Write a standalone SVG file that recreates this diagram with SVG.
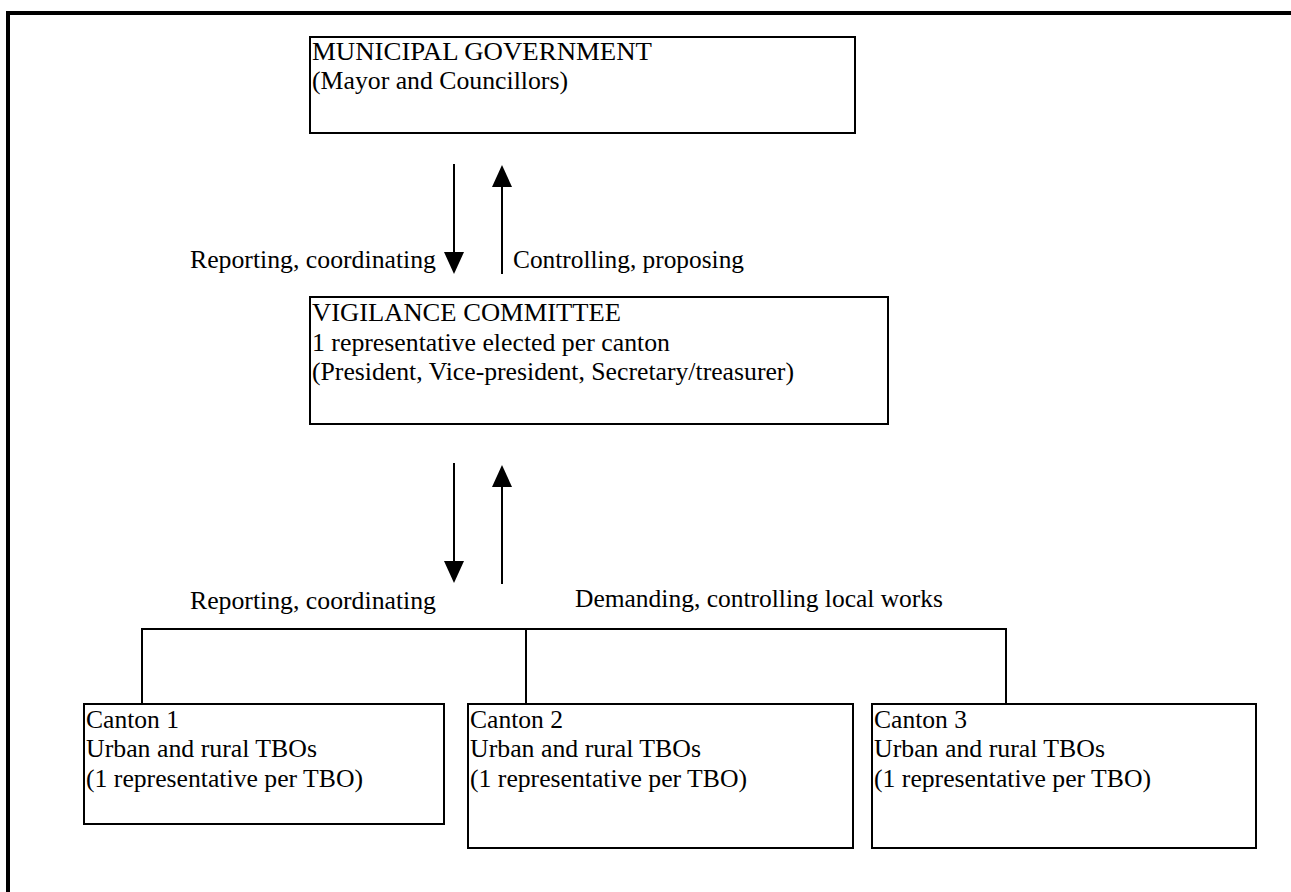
<svg xmlns="http://www.w3.org/2000/svg" width="1291" height="892" viewBox="0 0 1291 892">
  <style>
    .box { fill: #ffffff; stroke: #000000; stroke-width: 2; }
    .frame { fill: none; stroke: #000000; stroke-width: 4; }
    .wire { fill: none; stroke: #000000; stroke-width: 2; }
    .head { fill: #000000; stroke: none; }
    text { font-family: "Liberation Serif", "DejaVu Serif", serif; font-size: 25px; fill: #000000; }
  </style>
  <defs>
    <polygon id="arrow-down" class="head" points="-10,0 10,0 0,22"/>
    <polygon id="arrow-up" class="head" points="-10,0 10,0 0,-22"/>
  </defs>
  <rect width="1291" height="892" fill="#ffffff"/>

  <!-- outer page frame, open to the right and bottom -->
  <path class="frame" d="M 1291 13 H 8 V 892"/>

  <g id="municipal-government">
    <rect class="box" x="310" y="37" width="545" height="96"/>
    <text x="312" y="60" textLength="340" lengthAdjust="spacingAndGlyphs">MUNICIPAL GOVERNMENT</text>
    <text x="312" y="89" textLength="256" lengthAdjust="spacingAndGlyphs">(Mayor and Councillors)</text>
  </g>

  <g id="vigilance-committee">
    <rect class="box" x="310" y="297" width="578" height="127"/>
    <text x="312" y="321" textLength="309" lengthAdjust="spacingAndGlyphs">VIGILANCE COMMITTEE</text>
    <text x="312" y="351" textLength="358" lengthAdjust="spacingAndGlyphs">1 representative elected per canton</text>
    <text x="312" y="380" textLength="482" lengthAdjust="spacingAndGlyphs">(President, Vice-president, Secretary/treasurer)</text>
  </g>

  <g id="canton-1">
    <rect class="box" x="84" y="704" width="360" height="120"/>
    <text x="86" y="728" textLength="93" lengthAdjust="spacingAndGlyphs">Canton 1</text>
    <text x="86" y="757" textLength="231" lengthAdjust="spacingAndGlyphs">Urban and rural TBOs</text>
    <text x="86" y="787" textLength="277" lengthAdjust="spacingAndGlyphs">(1 representative per TBO)</text>
  </g>

  <g id="canton-2">
    <rect class="box" x="468" y="704" width="385" height="144"/>
    <text x="470" y="728" textLength="93" lengthAdjust="spacingAndGlyphs">Canton 2</text>
    <text x="470" y="757" textLength="231" lengthAdjust="spacingAndGlyphs">Urban and rural TBOs</text>
    <text x="470" y="787" textLength="277" lengthAdjust="spacingAndGlyphs">(1 representative per TBO)</text>
  </g>

  <g id="canton-3">
    <rect class="box" x="872" y="704" width="384" height="144"/>
    <text x="874" y="728" textLength="93" lengthAdjust="spacingAndGlyphs">Canton 3</text>
    <text x="874" y="757" textLength="231" lengthAdjust="spacingAndGlyphs">Urban and rural TBOs</text>
    <text x="874" y="787" textLength="277" lengthAdjust="spacingAndGlyphs">(1 representative per TBO)</text>
  </g>

  <g id="connectors">
    <!-- municipal government <-> vigilance committee -->
    <line class="wire" x1="454" y1="164" x2="454" y2="254"/>
    <use href="#arrow-down" x="454" y="252"/>
    <line class="wire" x1="502" y1="185" x2="502" y2="274"/>
    <use href="#arrow-up" x="502" y="187"/>
    <text x="190" y="268" textLength="246" lengthAdjust="spacingAndGlyphs">Reporting, coordinating</text>
    <text x="513" y="268" textLength="231" lengthAdjust="spacingAndGlyphs">Controlling, proposing</text>

    <!-- vigilance committee <-> cantons -->
    <line class="wire" x1="454" y1="463" x2="454" y2="563"/>
    <use href="#arrow-down" x="454" y="561"/>
    <line class="wire" x1="502" y1="485" x2="502" y2="584"/>
    <use href="#arrow-up" x="502" y="487"/>
    <text x="190" y="609" textLength="246" lengthAdjust="spacingAndGlyphs">Reporting, coordinating</text>
    <text x="575" y="607" textLength="368" lengthAdjust="spacingAndGlyphs">Demanding, controlling local works</text>

    <!-- branch to the three cantons -->
    <path class="wire" d="M 142 704 V 629 H 1006 V 704 M 526 629 V 704"/>
  </g>
</svg>
